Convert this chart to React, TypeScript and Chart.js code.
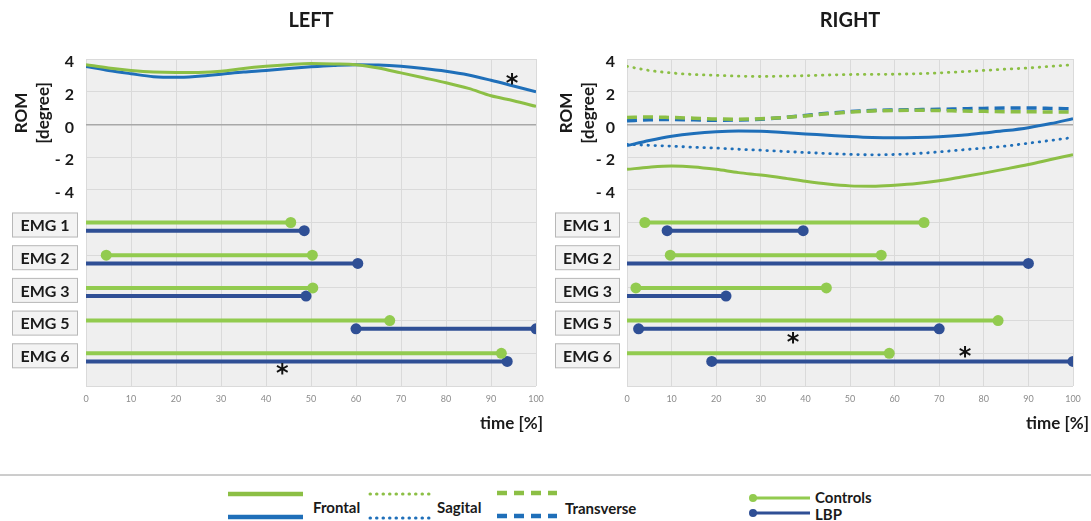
import React, { useEffect, useRef } from 'react';
import { Chart, registerables } from 'chart.js';
Chart.register(...registerables);

const FONT = 'Lato, "Open Sans", sans-serif';
const GREEN = '#8cbf45';
const GREEN_EMG = '#92cb4f';
const BLUE = '#1f6fb9';
const BLUE_EMG = '#2f4f95';

// ROM curves (x in % of time)
const romX = [0, 5, 10, 15, 20, 25, 30, 35, 40, 45, 50, 55, 60, 65, 70, 75, 80, 85, 90, 95, 100];
const leftFrontalControls = [3.65, 3.45, 3.3, 3.2, 3.17, 3.18, 3.25, 3.42, 3.55, 3.65, 3.72, 3.7, 3.65, 3.45, 3.15, 2.85, 2.55, 2.2, 1.75, 1.45, 1.1];
const leftFrontalLBP = [3.55, 3.3, 3.1, 2.92, 2.88, 2.95, 3.07, 3.2, 3.3, 3.42, 3.52, 3.6, 3.65, 3.63, 3.55, 3.42, 3.25, 3.02, 2.7, 2.35, 2.0];
const rightSagitalControls = [3.55, 3.3, 3.15, 3.05, 3.0, 2.95, 2.93, 2.95, 2.98, 3.02, 3.05, 3.06, 3.07, 3.1, 3.15, 3.22, 3.3, 3.38, 3.45, 3.55, 3.65];
const rightSagitalLBP = [-1.22, -1.28, -1.33, -1.4, -1.45, -1.52, -1.58, -1.65, -1.72, -1.78, -1.83, -1.86, -1.84, -1.78, -1.68, -1.56, -1.45, -1.32, -1.15, -0.98, -0.8];
const rightFrontalControls = [-2.75, -2.62, -2.55, -2.6, -2.75, -2.95, -3.1, -3.28, -3.48, -3.65, -3.76, -3.78, -3.72, -3.62, -3.45, -3.22, -2.98, -2.72, -2.45, -2.15, -1.85];
const rightFrontalLBP = [-1.3, -0.98, -0.72, -0.55, -0.45, -0.41, -0.42, -0.5, -0.58, -0.66, -0.74, -0.8, -0.82, -0.8, -0.75, -0.66, -0.52, -0.38, -0.2, 0.05, 0.35];
const rightTransverseControls = [0.42, 0.45, 0.42, 0.38, 0.33, 0.32, 0.35, 0.42, 0.52, 0.65, 0.75, 0.82, 0.85, 0.86, 0.85, 0.82, 0.8, 0.78, 0.77, 0.76, 0.75];
const rightTransverseLBP = [0.22, 0.28, 0.3, 0.28, 0.25, 0.27, 0.32, 0.42, 0.55, 0.68, 0.78, 0.85, 0.88, 0.9, 0.92, 0.95, 0.98, 1.0, 1.0, 0.98, 0.95];

// EMG activation intervals
const emgLabels = ['EMG 1', 'EMG 2', 'EMG 3', 'EMG 5', 'EMG 6'];
const emgRows = [-6, -8, -10, -12, -14];
const leftControlsStart = [0, 4.5, 0, 0, 0];
const leftControlsEnd = [45.5, 50.3, 50.4, 67.5, 92.3];
const leftLBPStart = [0, 0, 0, 60, 0];
const leftLBPEnd = [48.5, 60.4, 48.9, 100, 93.6];
const rightControlsStart = [4, 9.7, 2, 0, 0];
const rightControlsEnd = [66.6, 57, 44.7, 83.2, 58.8];
const rightLBPStart = [9, 0, 0, 2.6, 19];
const rightLBPEnd = [39.5, 90, 22.2, 70, 100];

// significance markers
const leftStars = [{ x: 94.7, y: 2.7 }, { x: 43.6, y: -15.0 }];
const rightStars = [{ x: 37.2, y: -13.1 }, { x: 75.8, y: -13.95 }];

const yTicksShown = [4, 2, 0, -2, -4];

type Curve = { values: number[]; color: string; dash: number[]; width: number; round?: boolean };

function curveDataset(c: Curve) {
  return {
    type: 'line',
    data: romX.map((x, i) => ({ x, y: c.values[i] })),
    borderColor: c.color,
    borderWidth: c.width,
    borderDash: c.dash,
    borderCapStyle: c.round ? 'round' : 'butt',
    pointRadius: 0,
    tension: 0.4,
    cubicInterpolationMode: 'monotone',
    fill: false,
  };
}

function segDataset(x0: number, x1: number, y: number, color: string) {
  return {
    type: 'line',
    data: [{ x: x0, y }, { x: x1, y }],
    borderColor: color,
    backgroundColor: color,
    borderWidth: 4,
    pointRadius: (ctx: any) => (ctx.raw && ctx.raw.x === 0 ? 0 : 5.5),
    pointBackgroundColor: color,
    pointBorderWidth: 0,
    clip: 0,
    fill: false,
  };
}

type PanelProps = {
  title: string;
  width: number;
  yAxisWidth: number;
  rightPad: number;
  curves: Curve[];
  cStart: number[];
  cEnd: number[];
  lStart: number[];
  lEnd: number[];
  stars: { x: number; y: number }[];
  boxX: number;
  boxW: number;
  left: number;
};

const HEIGHT = 445;

function Panel(p: PanelProps) {
  const ref = useRef<HTMLCanvasElement | null>(null);
  useEffect(() => {
    if (!ref.current) return;
    const datasets: any[] = p.curves.map(curveDataset);
    emgRows.forEach((row, i) => {
      datasets.push(segDataset(p.cStart[i], p.cEnd[i], row, GREEN_EMG));
      datasets.push(segDataset(p.lStart[i], p.lEnd[i], row - 0.5, BLUE_EMG));
    });
    const deco = {
      id: 'deco',
      beforeDraw(chart: any) {
        const { ctx, chartArea: a } = chart;
        ctx.save();
        ctx.fillStyle = '#efefef';
        ctx.fillRect(a.left, a.top, a.right - a.left, a.bottom - a.top);
        ctx.restore();
      },
      afterDraw(chart: any) {
        const ctx = chart.ctx as CanvasRenderingContext2D;
        const xs = chart.scales.x;
        const ys = chart.scales.y;
        const a = chart.chartArea;
        ctx.save();
        // title
        ctx.fillStyle = '#1a1a1a';
        ctx.font = `bold 20px ${FONT}`;
        ctx.textAlign = 'center';
        ctx.textBaseline = 'middle';
        ctx.fillText(p.title, (a.left + a.right) / 2, 21);
        // y-axis title
        ctx.font = `bold 17px ${FONT}`;
        const cy = 113;
        ctx.save();
        ctx.translate(22, cy);
        ctx.rotate(-Math.PI / 2);
        ctx.fillText('ROM', 0, 0);
        ctx.restore();
        ctx.save();
        ctx.translate(44, cy);
        ctx.rotate(-Math.PI / 2);
        ctx.fillText('[degree]', 0, 0);
        ctx.restore();
        // x title
        ctx.textAlign = 'right';
        ctx.fillText('time [%]', p.width - 2, 424);
        // EMG boxes
        emgLabels.forEach((lab, i) => {
          const c = ys.getPixelForValue(emgRows[i]) + 2.5;
          const h = 25;
          ctx.fillStyle = '#f3f3f3';
          ctx.fillRect(p.boxX, c - h / 2, p.boxW, h);
          ctx.strokeStyle = '#b8b8b8';
          ctx.lineWidth = 1;
          ctx.strokeRect(p.boxX + 0.5, c - h / 2 + 0.5, p.boxW - 1, h - 1);
          ctx.fillStyle = '#1a1a1a';
          ctx.font = `bold 16px ${FONT}`;
          ctx.textAlign = 'center';
          ctx.textBaseline = 'middle';
          ctx.fillText(lab, p.boxX + p.boxW / 2, c + 1);
        });
        // stars
        ctx.font = `bold 24px "DejaVu Sans", sans-serif`;
        ctx.fillStyle = '#111';
        ctx.textAlign = 'center';
        ctx.textBaseline = 'middle';
        p.stars.forEach((s) => {
          ctx.fillText('*', xs.getPixelForValue(s.x), ys.getPixelForValue(s.y) + 5);
        });
        ctx.restore();
      },
    };
    const chart = new Chart(ref.current, {
      type: 'line',
      data: { datasets },
      options: {
        responsive: false,
        animation: false,
        events: [],
        layout: { padding: { top: 59, right: p.rightPad, left: 0, bottom: 0 } },
        plugins: { legend: { display: false }, tooltip: { enabled: false } },
        scales: {
          x: {
            type: 'linear',
            min: 0,
            max: 100,
            border: { display: false },
            grid: { color: '#dadada', lineWidth: 1, drawTicks: false },
            ticks: {
              stepSize: 10,
              color: '#8c8c8c',
              font: { family: FONT, size: 9 },
              padding: 8,
              maxRotation: 0,
            },
            afterFit: (s: any) => {
              s.height = 59;
              s.paddingLeft = 0;
              s.paddingRight = 0;
            },
          },
          y: {
            type: 'linear',
            min: -16,
            max: 4,
            border: { display: false },
            grid: {
              color: (c: any) => (c.tick && c.tick.value === 0 ? '#a8a8a8' : '#dadada'),
              lineWidth: (c: any) => (c.tick && c.tick.value === 0 ? 1.5 : 1),
              drawTicks: false,
            },
            ticks: {
              stepSize: 2,
              color: '#1a1a1a',
              font: { family: FONT, size: 16, weight: 'bold' },
              padding: 12,
              labelOffset: 3,
              callback: (v: any) => {
                const n = Number(v);
                if (!yTicksShown.includes(n)) return '';
                return n < 0 ? '- ' + Math.abs(n) : String(n);
              },
            },
            afterFit: (s: any) => {
              s.width = p.yAxisWidth;
              s.paddingTop = 0;
              s.paddingBottom = 0;
            },
          },
        },
      },
      plugins: [deco],
    } as any);
    return () => chart.destroy();
  }, []);
  return (
    <canvas
      ref={ref}
      width={p.width}
      height={HEIGHT}
      style={{ position: 'absolute', left: p.left, top: 0, width: p.width, height: HEIGHT }}
    />
  );
}

function Legend() {
  const t = -445;
  const lineW = 4.5;
  return (
    <svg
      width={1091}
      height={76}
      style={{ position: 'absolute', left: 0, top: 445 }}
      fontFamily={FONT}
      fontWeight="bold"
      fontSize={15}
    >
      <line x1={0} x2={1091} y1={475 + t} y2={475 + t} stroke="#9a9a9a" strokeWidth={1} />
      {/* Frontal */}
      <line x1={228} x2={303} y1={494 + t} y2={494 + t} stroke={GREEN} strokeWidth={lineW} />
      <line x1={228} x2={303} y1={517 + t} y2={517 + t} stroke={BLUE} strokeWidth={lineW} />
      <text x={313} y={507 + t} dominantBaseline="central" fill="#1a1a1a">Frontal</text>
      {/* Sagital */}
      <line x1={370} x2={432} y1={494 + t} y2={494 + t} stroke={GREEN} strokeWidth={3} strokeDasharray="0.5 6" strokeLinecap="round" />
      <line x1={370} x2={432} y1={518 + t} y2={518 + t} stroke={BLUE} strokeWidth={3} strokeDasharray="0.5 6" strokeLinecap="round" />
      <text x={437} y={507 + t} dominantBaseline="central" fill="#1a1a1a">Sagital</text>
      {/* Transverse */}
      <line x1={497} x2={557} y1={493 + t} y2={493 + t} stroke={GREEN} strokeWidth={lineW} strokeDasharray="10 7" />
      <line x1={497} x2={557} y1={516 + t} y2={516 + t} stroke={BLUE} strokeWidth={lineW} strokeDasharray="10 7" />
      <text x={565} y={508 + t} dominantBaseline="central" fill="#1a1a1a">Transverse</text>
      {/* Controls / LBP */}
      <line x1={752} x2={810} y1={498 + t} y2={498 + t} stroke={GREEN_EMG} strokeWidth={3} />
      <circle cx={753} cy={498 + t} r={4} fill={GREEN_EMG} />
      <text x={815} y={497 + t} dominantBaseline="central" fill="#1a1a1a">Controls</text>
      <line x1={752} x2={810} y1={513 + t} y2={513 + t} stroke={BLUE_EMG} strokeWidth={3} />
      <circle cx={753} cy={513 + t} r={4} fill={BLUE_EMG} />
      <text x={815} y={514 + t} dominantBaseline="central" fill="#1a1a1a">LBP</text>
    </svg>
  );
}

export default function App() {
  const leftCurves: Curve[] = [
    { values: leftFrontalControls, color: GREEN, dash: [], width: 3 },
    { values: leftFrontalLBP, color: BLUE, dash: [], width: 3 },
  ];
  const rightCurves: Curve[] = [
    { values: rightSagitalControls, color: GREEN, dash: [0.5, 6.5], width: 2.8, round: true },
    { values: rightSagitalLBP, color: BLUE, dash: [0.5, 6.5], width: 2.8, round: true },
    { values: rightFrontalControls, color: GREEN, dash: [], width: 3 },
    { values: rightFrontalLBP, color: BLUE, dash: [], width: 3 },
    { values: rightTransverseControls, color: GREEN, dash: [10, 6], width: 3.5 },
    { values: rightTransverseLBP, color: BLUE, dash: [10, 6], width: 3.5 },
  ];
  return (
    <div style={{ position: 'absolute', left: 0, top: 0, width: 1091, height: 521, background: '#fff', overflow: 'hidden' }}>
      <Panel
        title="LEFT"
        width={545}
        left={0}
        yAxisWidth={86}
        rightPad={9}
        curves={leftCurves}
        cStart={leftControlsStart}
        cEnd={leftControlsEnd}
        lStart={leftLBPStart}
        lEnd={leftLBPEnd}
        stars={leftStars}
        boxX={12}
        boxW={66}
      />
      <Panel
        title="RIGHT"
        width={546}
        left={545}
        yAxisWidth={82}
        rightPad={18}
        curves={rightCurves}
        cStart={rightControlsStart}
        cEnd={rightControlsEnd}
        lStart={rightLBPStart}
        lEnd={rightLBPEnd}
        stars={rightStars}
        boxX={10}
        boxW={65}
      />
      <Legend />
    </div>
  );
}
